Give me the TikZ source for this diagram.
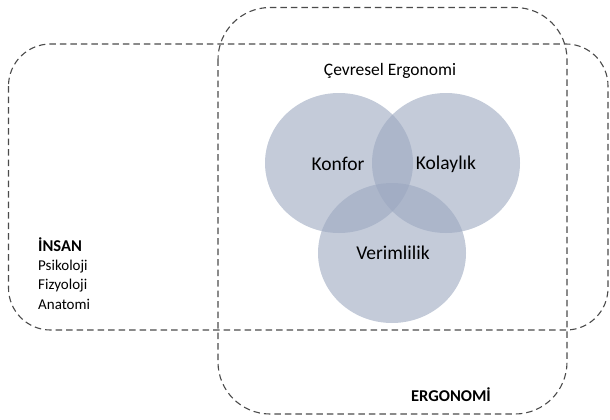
\documentclass[tikz,border=0pt]{standalone}
\usepackage{fontspec}
\setmainfont{Carlito}
\definecolor{circfill}{RGB}{156,168,192}
\definecolor{dashline}{RGB}{75,75,75}
\tikzset{
  zone/.style={draw=dashline, line width=1.1pt, dash pattern=on 6.5pt off 4pt},
  petal/.style={ellipse, fill=circfill, fill opacity=0.6, minimum width=148pt, minimum height=140pt, inner sep=0pt},
  lbl/.style={font=\fontsize{19.5}{21}\selectfont, text=black},
  side/.style={font=\fontsize{15}{17}\selectfont, anchor=west, inner sep=0pt}
}
\usetikzlibrary{shapes.geometric}
\begin{document}
\begin{tikzpicture}[x=1pt,y=-1pt]
\useasboundingbox (0,0) rectangle (610,420);
% zones
\draw[zone, rounded corners=42pt] (8.5,44) rectangle (608,330);
\draw[zone, rounded corners=52pt] (218,7.5) rectangle (567,414);
% circles
\node[petal] (konfor) at (339,163) {};
\node[petal] (kolay) at (446,163) {};
\node[petal] (verim) at (392,253) {};
% labels
\node[lbl] (tk) at (338,164) {Konfor};
\node[lbl] (tkol) at (446,164) {Kolaylık};
\node[lbl] (tv) at (393,253) {Verimlilik};
\node[font=\fontsize{17.5}{19}\selectfont] (cevre) at (390,71) {Çevresel Ergonomi};
\node[side, font=\fontsize{16.5}{18}\selectfont\bfseries] (insan) at (38,245) {İNSAN};
\node[side] (psi) at (38,267) {Psikoloji};
\node[side] (fiz) at (38,286) {Fizyoloji};
\node[side] (ana) at (38,304) {Anatomi};
\node[font=\fontsize{16.5}{18}\selectfont\bfseries] (erg) at (451,395) {ERGONOMİ};
\end{tikzpicture}
\end{document}
